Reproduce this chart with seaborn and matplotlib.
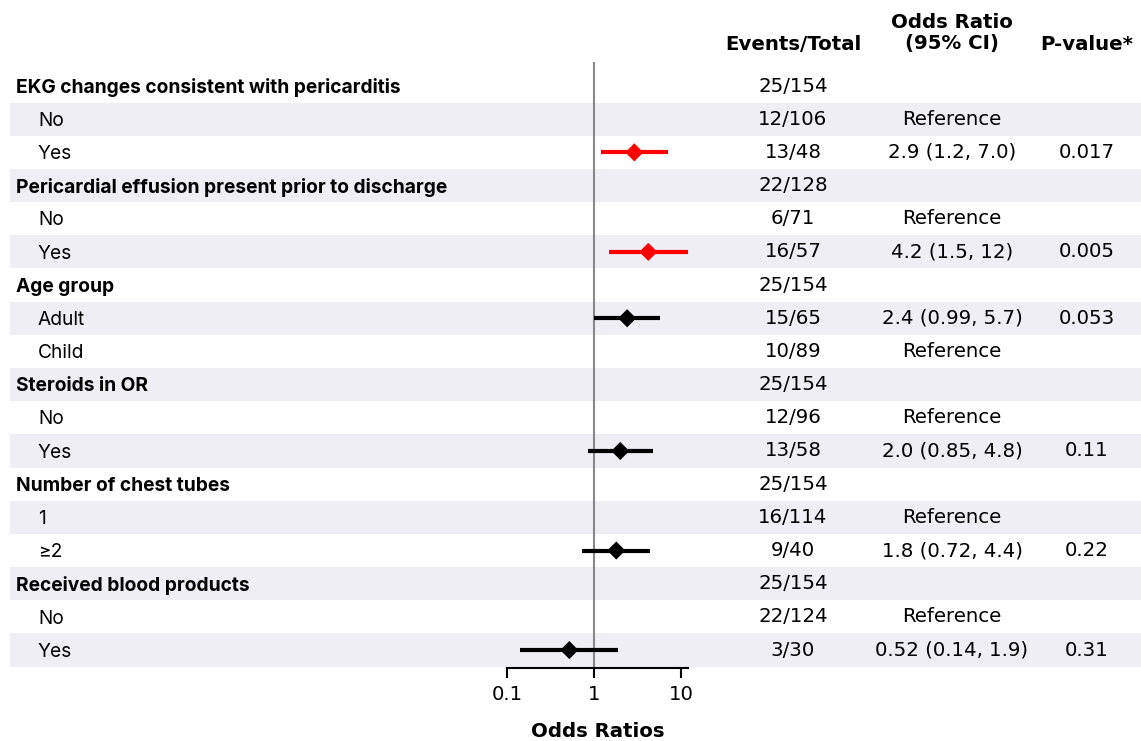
"""Forest plot of odds ratios with a side table of events, OR (95% CI) and p-values."""
import numpy as np
import pandas as pd
import matplotlib
matplotlib.use("Agg")
import matplotlib.pyplot as plt
import seaborn as sns

# ------------------------------------------------------------------
# Data
# ------------------------------------------------------------------
labels = [
    "EKG changes consistent with pericarditis", "No", "Yes",
    "Pericardial effusion present prior to discharge", "No", "Yes",
    "Age group", "Adult", "Child",
    "Steroids in OR", "No", "Yes",
    "Number of chest tubes", "1", "≥2",
    "Received blood products", "No", "Yes",
]
is_header = [True, False, False] * 6
events = [
    "25/154", "12/106", "13/48",
    "22/128", "6/71", "16/57",
    "25/154", "15/65", "10/89",
    "25/154", "12/96", "13/58",
    "25/154", "16/114", "9/40",
    "25/154", "22/124", "3/30",
]
or_text = [
    "", "Reference", "2.9 (1.2, 7.0)",
    "", "Reference", "4.2 (1.5, 12)",
    "", "2.4 (0.99, 5.7)", "Reference",
    "", "Reference", "2.0 (0.85, 4.8)",
    "", "Reference", "1.8 (0.72, 4.4)",
    "", "Reference", "0.52 (0.14, 1.9)",
]
p_text = [
    "", "", "0.017",
    "", "", "0.005",
    "", "0.053", "",
    "", "", "0.11",
    "", "", "0.22",
    "", "", "0.31",
]
nan = np.nan
or_est = [nan, nan, 2.9, nan, nan, 4.2, nan, 2.4, nan, nan, nan, 2.0, nan, nan, 1.8, nan, nan, 0.52]
ci_low = [nan, nan, 1.2, nan, nan, 1.5, nan, 0.99, nan, nan, nan, 0.85, nan, nan, 0.72, nan, nan, 0.14]
ci_high = [nan, nan, 7.0, nan, nan, 12, nan, 5.7, nan, nan, nan, 4.8, nan, nan, 4.4, nan, nan, 1.9]
p_values = [nan, nan, 0.017, nan, nan, 0.005, nan, 0.053, nan, nan, nan, 0.11, nan, nan, 0.22, nan, nan, 0.31]

df = pd.DataFrame({
    "row": np.arange(len(labels)),
    "or": or_est, "lo": ci_low, "hi": ci_high, "p": p_values,
})
df["sig"] = np.where(df["p"] < 0.05, "sig", "ns")
pts = df.dropna(subset=["or"])

# ------------------------------------------------------------------
# Layout (pixel-based geometry for a 1141x741 figure)
# ------------------------------------------------------------------
sns.set_theme(style="white")
plt.rcParams["font.family"] = ["DejaVu Sans"]
plt.rcParams["text.color"] = "black"
plt.rcParams["xtick.color"] = "black"
plt.rcParams["axes.labelcolor"] = "black"

W, H = 1141, 741
row0_px, row_step = 86.0, 33.18
fs = 14.2
label_fs = 13.8
label_font = ["Inter", "DejaVu Sans"]
label_dy = 0.05  # Inter sits a touch high with va="center"

fig = plt.figure(figsize=(W / 100, H / 100), dpi=100)

# table axes covering the whole figure: x in pixels, y in row units
tab = fig.add_axes([0, 0, 1, 1])
tab.set_xlim(0, W)
tab.set_ylim((H - row0_px) / row_step, -row0_px / row_step)
tab.axis("off")

for r in range(len(labels)):
    if r % 2 == 1:
        tab.axhspan(r - 0.5, r + 0.5, xmin=10 / W, xmax=1, color="#EEEEF4", lw=0, zorder=0)
    if is_header[r]:
        tab.text(16, r + label_dy, labels[r], fontsize=label_fs, fontweight="bold",
                 va="center", ha="left", family=label_font)
    else:
        tab.text(38, r + label_dy, labels[r], fontsize=label_fs, va="center", ha="left",
                 family=label_font)
    tab.text(793, r, events[r], fontsize=fs, va="center", ha="center")
    tab.text(952, r, or_text[r], fontsize=fs, va="center", ha="center")
    tab.text(1087, r, p_text[r], fontsize=fs, va="center", ha="center")

hdr_y = (44 - row0_px) / row_step
tab.text(793, hdr_y, "Events/Total", fontsize=fs, fontweight="bold", va="center", ha="center")
tab.text(952, (33 - row0_px) / row_step, "Odds Ratio\n(95% CI)", fontsize=fs,
         fontweight="bold", va="center", ha="center", linespacing=1.15)
tab.text(1087, hdr_y, "P-value*", fontsize=fs, fontweight="bold", va="center", ha="center")

# forest axes
x0_px, x1_px = 507, 688
top_px, bot_px = 62, 668
ax = fig.add_axes([x0_px / W, 1 - bot_px / H, (x1_px - x0_px) / W, (bot_px - top_px) / H])
ax.patch.set_alpha(0)
ax.set_xscale("log")
ax.set_xlim(0.1, 12)
ax.set_ylim((bot_px - row0_px) / row_step, (top_px - row0_px) / row_step)

ax.axvline(1, color="#888888", lw=1.5, zorder=1)

palette = {"sig": "#FF0000", "ns": "#000000"}
for _, row in pts.iterrows():
    ax.hlines(row["row"], row["lo"], row["hi"], color=palette[row["sig"]], lw=3, zorder=2)
sns.scatterplot(data=pts, x="or", y="row", hue="sig", palette=palette, marker="D",
                s=85, linewidth=0, legend=False, ax=ax, zorder=3)

for side in ["left", "right", "top"]:
    ax.spines[side].set_visible(False)
ax.spines["bottom"].set_color("black")
ax.spines["bottom"].set_linewidth(1.5)
ax.set_yticks([])
ax.set_xticks([0.1, 1, 10])
ax.set_xticklabels(["0.1", "1", "10"])
ax.xaxis.set_minor_locator(matplotlib.ticker.NullLocator())
ax.tick_params(axis="x", bottom=True, length=7, width=1.5, color="black",
               labelsize=fs, pad=5)
ax.set_ylabel("")
ax.set_xlabel("Odds Ratios", fontsize=fs, fontweight="bold", labelpad=13)

fig.savefig("out.png", dpi=100)
plt.close(fig)
